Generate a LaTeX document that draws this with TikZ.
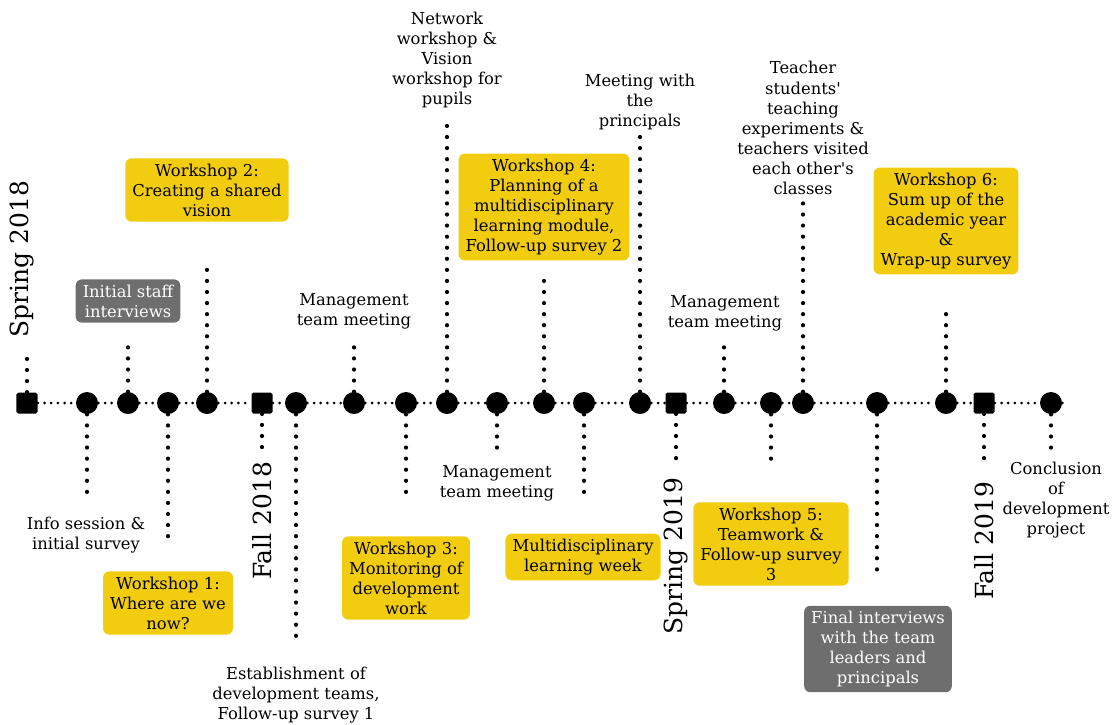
\documentclass[tikz,border=0pt]{standalone}
\usepackage{fontspec}
\setmainfont{DejaVu Serif}
\usepackage{tikz}
\usepackage{xcolor}
\usetikzlibrary{positioning}
\definecolor{hlyellow}{RGB}{242,204,15}
\definecolor{hlgrey}{RGB}{110,110,110}

\begin{document}
\begin{tikzpicture}[x=1cm,y=1cm,
    font=\fontsize{9.3}{11.4}\selectfont,
    ev/.style={circle,fill=black,minimum size=4.4mm,inner sep=0pt},
    yr/.style={fill=black,rounded corners=1pt,minimum size=4.2mm,inner sep=0pt},
    axis/.style={line width=1.7pt,line cap=round,dash pattern=on 0pt off 3.8pt},
    stem/.style={line width=2.4pt,line cap=round,dash pattern=on 0pt off 6.3pt},
    lbl/.style={align=center,inner sep=1pt},
    hl/.style={align=center,fill=hlyellow,rounded corners=3.5pt,inner xsep=4pt,
               inner ysep=3pt},
    greybox/.style={hl,fill=hlgrey,text=white},
    season/.style={rotate=90,font=\fontsize{14.2}{16}\selectfont,inner sep=0pt}]
    \useasboundingbox (0,8.06) rectangle (22.38,-6.42);

    % markers on the time line
    \node[yr] (s18) at (0.54,0) {};
    \node[ev] (e1) at (1.74,0) {};
    \node[ev] (e2) at (2.56,0) {};
    \node[ev] (e3) at (3.36,0) {};
    \node[ev] (e4) at (4.14,0) {};
    \node[yr] (f18) at (5.24,0) {};
    \node[ev] (e5) at (5.92,0) {};
    \node[ev] (e6) at (7.08,0) {};
    \node[ev] (e7) at (8.12,0) {};
    \node[ev] (e8) at (8.94,0) {};
    \node[ev] (e9) at (9.94,0) {};
    \node[ev] (e10) at (10.88,0) {};
    \node[ev] (e11) at (11.68,0) {};
    \node[ev] (e12) at (12.80,0) {};
    \node[yr] (s19) at (13.52,0) {};
    \node[ev] (e13) at (14.48,0) {};
    \node[ev] (e14) at (15.42,0) {};
    \node[ev] (e15) at (16.06,0) {};
    \node[ev] (e16) at (17.54,0) {};
    \node[ev] (e17) at (18.92,0) {};
    \node[yr] (f19) at (19.68,0) {};
    \node[ev] (e18) at (21.02,0) {};
    \coordinate (tail) at (21.34,0);
    \draw[axis] (s18)--(e1)--(e2)--(e3)--(e4)--(f18)--(e5)--(e6)--(e7)--(e8)
        --(e9)--(e10)--(e11)--(e12)--(s19)--(e13)--(e14)--(e15)--(e16)--(e17)
        --(f19)--(e18)--(tail);

    % stem ends
    \coordinate (ts18) at (0.54,1.02);
    \coordinate (t1) at (1.74,-1.98);
    \coordinate (t2) at (2.56,1.20);
    \coordinate (t3) at (3.36,-2.68);
    \coordinate (t4) at (4.14,2.82);
    \coordinate (tf18) at (5.24,-0.98);
    \coordinate (t5) at (5.92,-4.80);
    \coordinate (t6) at (7.08,1.20);
    \coordinate (t7) at (8.12,-1.94);
    \coordinate (t8) at (8.94,5.60);
    \coordinate (t9) at (9.94,-1.00);
    \coordinate (t10) at (10.88,2.50);
    \coordinate (t11) at (11.68,-1.90);
    \coordinate (t12) at (12.80,5.32);
    \coordinate (ts19) at (13.52,-1.30);
    \coordinate (t13) at (14.48,1.20);
    \coordinate (t14) at (15.42,-1.24);
    \coordinate (t15) at (16.06,4.02);
    \coordinate (t16) at (17.54,-3.38);
    \coordinate (t17) at (18.92,1.90);
    \coordinate (tf19) at (19.68,-1.30);
    \coordinate (t18) at (21.02,-1.04);
    \foreach \m/\t in {s18/ts18,e1/t1,e2/t2,e3/t3,e4/t4,f18/tf18,e5/t5,e6/t6,
        e7/t7,e8/t8,e9/t9,e10/t10,e11/t11,e12/t12,s19/ts19,e13/t13,e14/t14,
        e15/t15,e16/t16,e17/t17,f19/tf19,e18/t18}
        \draw[stem] (\m) -- (\t);

    % seasons
    \node[season] (ls18) at (0.44,2.88) {Spring 2018};
    \node[season] (lf18) at (5.24,-2.36) {Fall 2018};
    \node[season] (ls19) at (13.52,-3.06) {Spring 2019};
    \node[season] (lf19) at (19.68,-2.76) {Fall 2019};

    % events
    \node[lbl] (l1) at (1.72,-2.64) {Info session \&\\initial survey};
    \node[greybox] (l2) at (2.56,2.04) {Initial staff\\interviews};
    \node[hl] (l3) at (3.36,-4.00) {Workshop 1:\\Where are we\\now?};
    \node[hl] (l4) at (4.14,4.26) {Workshop 2:\\Creating a shared\\vision};
    \node[lbl] (l5) at (5.92,-5.84) {Establishment of\\development teams,\\Follow-up survey 1};
    \node[lbl] (l6) at (7.08,1.84) {Management\\team meeting};
    \node[hl] (l7) at (8.12,-3.50) {Workshop 3:\\Monitoring of\\development\\work};
    \node[lbl] (l8) at (8.94,6.86) {Network\\workshop \&\\Vision\\workshop for\\pupils};
    \node[lbl] (l9) at (9.94,-1.60) {Management\\team meeting};
    \node[hl] (l10) at (10.88,3.92) {Workshop 4:\\Planning of a\\multidisciplinary\\learning module,\\Follow-up survey 2};
    \node[hl] (l11) at (11.66,-3.08) {Multidisciplinary\\learning week};
    \node[lbl] (l12) at (12.80,6.02) {Meeting with\\the\\principals};
    \node[lbl] (l13) at (14.50,1.80) {Management\\team meeting};
    \node[hl] (l14) at (15.42,-2.82) {Workshop 5:\\Teamwork \&\\Follow-up survey\\3};
    \node[lbl] (l15) at (16.06,5.50) {Teacher\\students\textquotesingle\\teaching\\experiments \&\\teachers visited\\each other\textquotesingle s\\classes};
    \node[greybox] (l16) at (17.56,-4.92) {Final interviews\\with the team\\leaders and\\principals};
    \node[hl] (l17) at (18.92,3.64) {Workshop 6:\\Sum up of the\\academic year\\\&\\Wrap-up survey};
    \node[lbl] (l18) at (21.12,-1.94) {Conclusion\\of\\development\\project};
\end{tikzpicture}
\end{document}
